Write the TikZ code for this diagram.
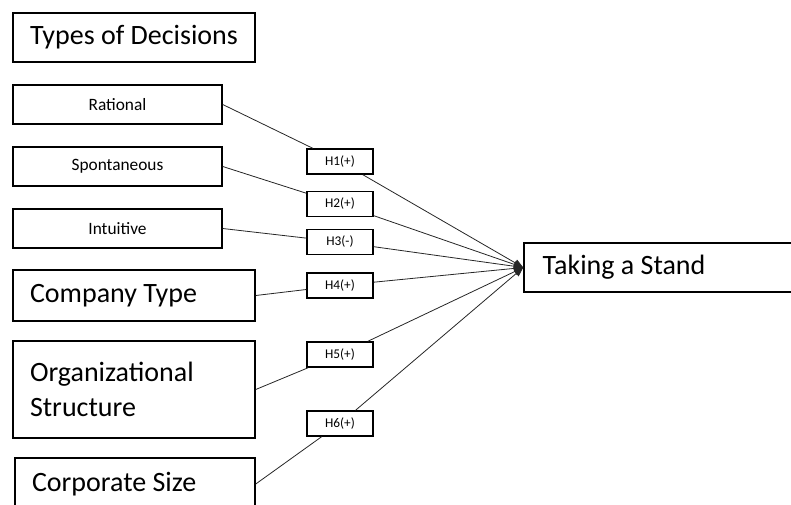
\documentclass[tikz,border=0pt]{standalone}
\usepackage{fontspec}
\setmainfont{Carlito}
\usetikzlibrary{arrows.meta}

\begin{document}
\begin{tikzpicture}[x=0.75pt,y=-0.75pt,
    bigbox/.style={draw=black, line width=1.1pt, inner sep=0pt, font=\fontsize{21}{26}\selectfont},
    leftbox/.style={bigbox, align=flush left, text width=156pt, inner xsep=12.75pt},
    smallbox/.style={draw=black, line width=1.1pt, inner sep=0pt, minimum width=156.75pt, minimum height=29.25pt, font=\fontsize{13}{15}\selectfont},
    hbox/.style={draw=black, line width=1.1pt, inner sep=0pt, minimum width=49.5pt, minimum height=18.75pt, font=\fontsize{10}{12}\selectfont},
    link/.style={draw=black!85, line width=0.6pt},
    arrowlink/.style={link, -{Triangle[length=7pt,width=5.5pt]}}
    ]
    \clip (0,0) rectangle (791,504);
    \useasboundingbox (0,0) rectangle (791,504);

    \node [bigbox, minimum width=181.5pt, minimum height=36.75pt] (types) at (134,37.5) {Types of Decisions};

    \node [smallbox] (rational) at (117.5,104.5) {Rational};
    \node [smallbox] (spont) at (117.5,166.5) {Spontaneous};
    \node [smallbox] (intuit) at (117.5,228.5) {Intuitive};

    \node [leftbox, minimum height=38.25pt] (company) at (134,295.5) {Company Type};
    \node [leftbox, minimum height=72.75pt] (org) at (134,389.5) {Organizational\\Structure};
    \node [leftbox, text width=154.5pt, minimum height=39pt] (corp) at (135,484) {Corporate Size};

    \node [hbox] (h1) at (340,161.5) {H1(+)};
    \node [hbox] (h2) at (340,204) {H2(+)};
    \node [hbox] (h3) at (340,242) {H3(-)};
    \node [hbox] (h4) at (340,285.5) {H4(+)};
    \node [hbox] (h5) at (340,354.5) {H5(+)};
    \node [hbox] (h6) at (340,423.5) {H6(+)};

    \node [bigbox, align=flush left, text width=186.5pt, inner xsep=14pt, minimum height=36.75pt] (stand) at (667,267.5) {Taking a Stand};

    \draw [link] (rational.east) -- (h1);
    \draw [link] (spont.east) -- (h2);
    \draw [link] (intuit.east) -- (h3);
    \draw [link] (company.east) -- (h4);
    \draw [link] (org.east) -- (h5);
    \draw [link] (corp.east) -- (h6);

    \draw [arrowlink] (h1) -- (stand.west);
    \draw [arrowlink] (h2) -- (stand.west);
    \draw [arrowlink] (h3) -- (stand.west);
    \draw [arrowlink] (h4) -- (stand.west);
    \draw [arrowlink] (h5) -- (stand.west);
    \draw [arrowlink] (h6) -- (stand.west);
\end{tikzpicture}
\end{document}
